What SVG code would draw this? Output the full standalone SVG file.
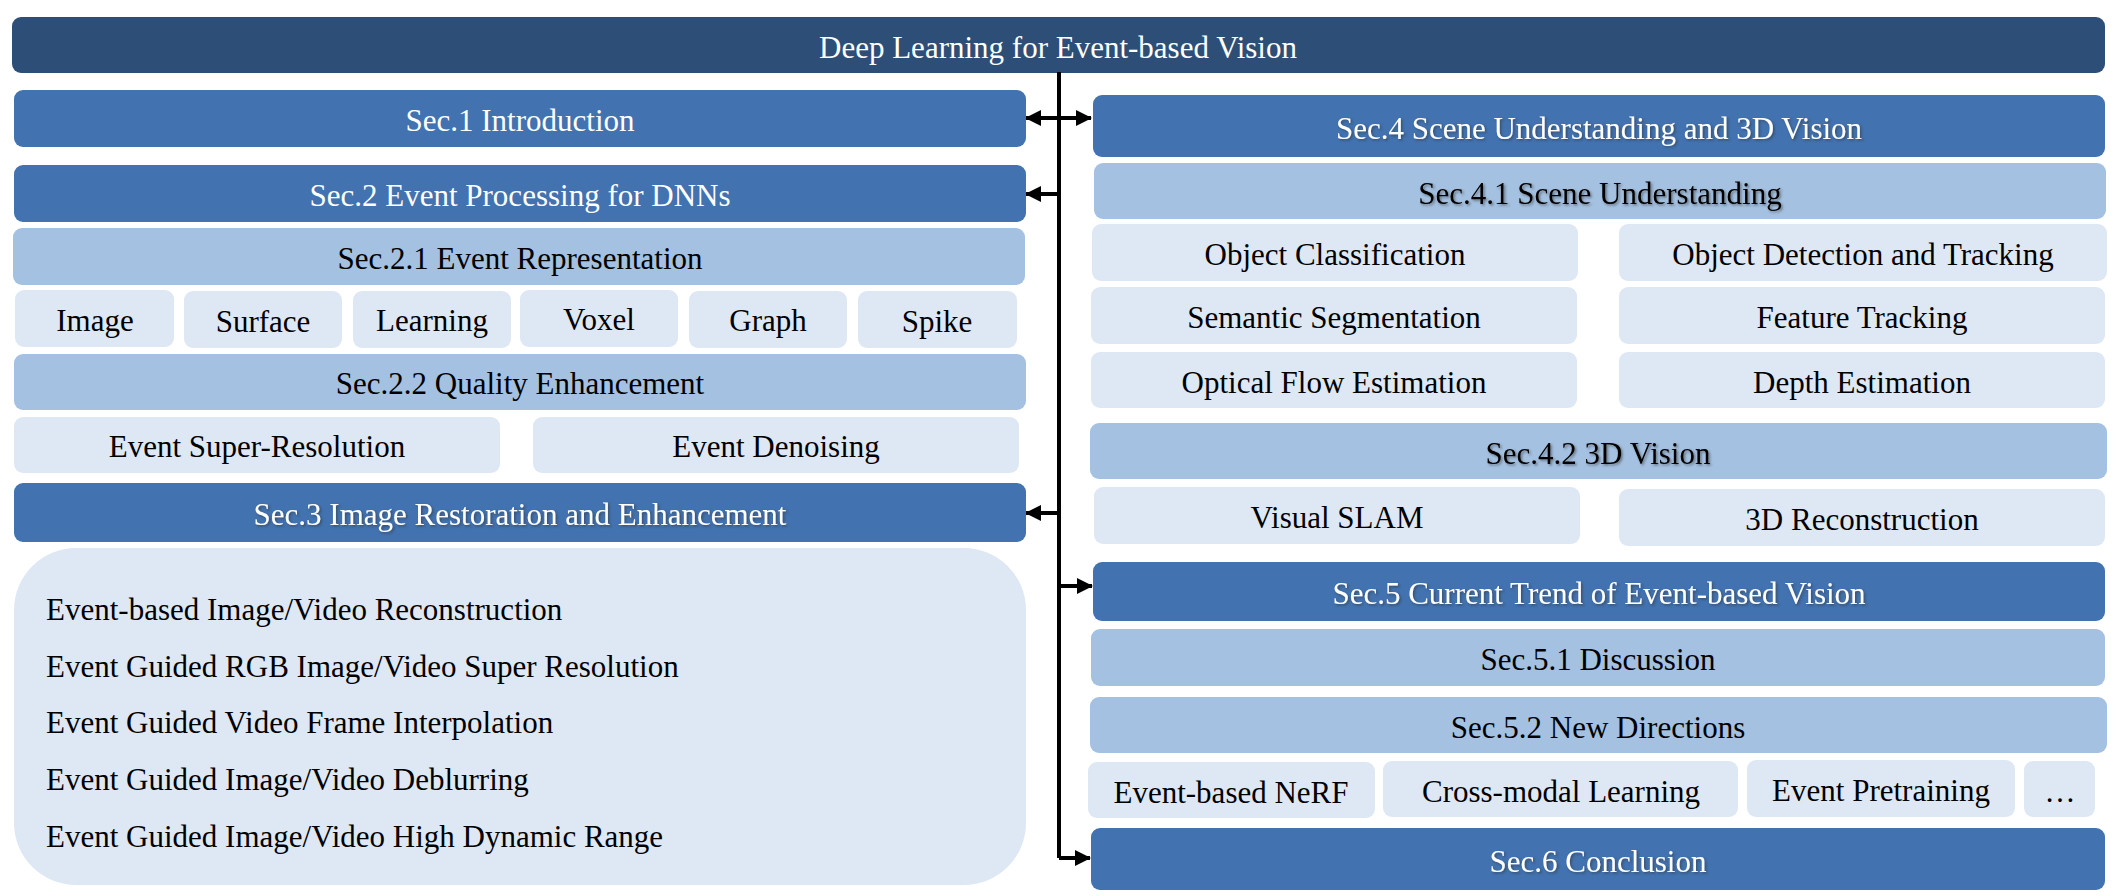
<svg xmlns="http://www.w3.org/2000/svg" width="2126" height="896" viewBox="0 0 2126 896">
<style>
text{font-family:"Liberation Serif","Times New Roman",serif;font-size:31px;text-anchor:middle}
.top{fill:#2D4F77}
.sec{fill:#4272AF}
.sub{fill:#A4C1E1}
.item{fill:#DEE8F4}
.w{fill:#FFFFFF}
.k{fill:#000000}
.sh{filter:url(#shadow)}
.conn{stroke:#000;stroke-width:4;fill:none}
</style>
<defs>
<filter id="shadow" x="-5%" y="-30%" width="110%" height="160%">
<feDropShadow dx="1.5" dy="1.5" stdDeviation="1" flood-color="#333" flood-opacity="0.55"/>
</filter>
<marker id="ah" markerUnits="userSpaceOnUse" markerWidth="16" markerHeight="16" refX="15" refY="8" orient="auto-start-reverse">
<path d="M0,0 L16,8 L0,16 Z" fill="#000"/>
</marker>
</defs>
<rect width="2126" height="896" fill="#FFFFFF"/>

<g id="title"><rect class="top" x="12" y="17" width="2093" height="56" rx="9"/><text class="w" x="1058" y="58">Deep Learning for Event-based Vision</text></g>

<g id="connectors">
<path class="conn" d="M1059,72 V858"/>
<path class="conn" d="M1026,118 H1091" marker-start="url(#ah)" marker-end="url(#ah)"/>
<path class="conn" d="M1059,194 H1026" marker-end="url(#ah)"/>
<path class="conn" d="M1059,513 H1026" marker-end="url(#ah)"/>
<path class="conn" d="M1059,586 H1092" marker-end="url(#ah)"/>
<path class="conn" d="M1059,858 H1090" marker-end="url(#ah)"/>
</g>

<g id="sec1"><rect class="sec" x="14" y="90" width="1012" height="57" rx="9"/><text class="w" x="520" y="131">Sec.1 Introduction</text></g>
<g id="sec2"><rect class="sec" x="14" y="165" width="1012" height="57" rx="9"/><text class="w" x="520" y="206">Sec.2 Event Processing for DNNs</text></g>
<g id="sec21"><rect class="sub" x="13" y="228" width="1012" height="57" rx="9"/><text class="k" x="520" y="269">Sec.2.1 Event Representation</text></g>
<g id="image"><rect class="item" x="15" y="290" width="159" height="57" rx="9"/><text class="k" x="95" y="331">Image</text></g>
<g id="surface"><rect class="item" x="184" y="291" width="158" height="57" rx="9"/><text class="k" x="263" y="332">Surface</text></g>
<g id="learning"><rect class="item" x="353" y="291" width="158" height="57" rx="9"/><text class="k" x="432" y="331">Learning</text></g>
<g id="voxel"><rect class="item" x="520" y="290" width="158" height="57" rx="9"/><text class="k" x="599" y="330">Voxel</text></g>
<g id="graph"><rect class="item" x="689" y="291" width="158" height="57" rx="9"/><text class="k" x="768" y="331">Graph</text></g>
<g id="spike"><rect class="item" x="858" y="291" width="159" height="57" rx="9"/><text class="k" x="937" y="332">Spike</text></g>
<g id="sec22"><rect class="sub" x="14" y="354" width="1012" height="56" rx="9"/><text class="k" x="520" y="394">Sec.2.2 Quality Enhancement</text></g>
<g id="esr"><rect class="item" x="14" y="417" width="486" height="56" rx="9"/><text class="k" x="257" y="457">Event Super-Resolution</text></g>
<g id="edn"><rect class="item" x="533" y="417" width="486" height="56" rx="9"/><text class="k" x="776" y="457">Event Denoising</text></g>
<g id="sec3"><rect class="sec" x="14" y="483" width="1012" height="59" rx="9"/><text class="w sh" x="520" y="525">Sec.3 Image Restoration and Enhancement</text></g>
<g id="sec3list"><rect class="item" x="14" y="548" width="1012" height="337" rx="62"/>
<text class="k" x="46" y="620" style="text-anchor:start">Event-based Image/Video Reconstruction</text>
<text class="k" x="46" y="677" style="text-anchor:start">Event Guided RGB Image/Video Super Resolution</text>
<text class="k" x="46" y="733" style="text-anchor:start">Event Guided Video Frame Interpolation</text>
<text class="k" x="46" y="790" style="text-anchor:start">Event Guided Image/Video Deblurring</text>
<text class="k" x="46" y="847" style="text-anchor:start">Event Guided Image/Video High Dynamic Range</text>
</g>

<g id="sec4"><rect class="sec" x="1093" y="95" width="1012" height="62" rx="9"/><text class="w sh" x="1599" y="139">Sec.4 Scene Understanding and 3D Vision</text></g>
<g id="sec41"><rect class="sub" x="1094" y="163" width="1012" height="56" rx="9"/><text class="k sh" x="1600" y="204">Sec.4.1 Scene Understanding</text></g>
<g id="objcls"><rect class="item" x="1092" y="224" width="486" height="57" rx="9"/><text class="k" x="1335" y="265">Object Classification</text></g>
<g id="objdet"><rect class="item" x="1619" y="224" width="488" height="57" rx="9"/><text class="k" x="1863" y="265">Object Detection and Tracking</text></g>
<g id="semseg"><rect class="item" x="1091" y="287" width="486" height="57" rx="9"/><text class="k" x="1334" y="328">Semantic Segmentation</text></g>
<g id="feat"><rect class="item" x="1619" y="287" width="486" height="57" rx="9"/><text class="k" x="1862" y="328">Feature Tracking</text></g>
<g id="flow"><rect class="item" x="1091" y="352" width="486" height="56" rx="9"/><text class="k" x="1334" y="393">Optical Flow Estimation</text></g>
<g id="depth"><rect class="item" x="1619" y="352" width="486" height="56" rx="9"/><text class="k" x="1862" y="393">Depth Estimation</text></g>
<g id="sec42"><rect class="sub" x="1090" y="423" width="1017" height="56" rx="9"/><text class="k sh" x="1598" y="464">Sec.4.2 3D Vision</text></g>
<g id="slam"><rect class="item" x="1094" y="487" width="486" height="57" rx="9"/><text class="k" x="1337" y="528">Visual SLAM</text></g>
<g id="recon"><rect class="item" x="1619" y="489" width="486" height="57" rx="9"/><text class="k" x="1862" y="530">3D Reconstruction</text></g>
<g id="sec5"><rect class="sec" x="1093" y="562" width="1012" height="59" rx="9"/><text class="w sh" x="1599" y="604">Sec.5 Current Trend of Event-based Vision</text></g>
<g id="sec51"><rect class="sub" x="1091" y="629" width="1014" height="57" rx="9"/><text class="k" x="1598" y="670">Sec.5.1 Discussion</text></g>
<g id="sec52"><rect class="sub" x="1090" y="697" width="1017" height="56" rx="9"/><text class="k" x="1598" y="738">Sec.5.2 New Directions</text></g>
<g id="nerf"><rect class="item" x="1088" y="762" width="287" height="56" rx="9"/><text class="k" x="1231" y="803">Event-based NeRF</text></g>
<g id="cross"><rect class="item" x="1383" y="761" width="355" height="56" rx="9"/><text class="k" x="1561" y="802">Cross-modal Learning</text></g>
<g id="pretrain"><rect class="item" x="1747" y="760" width="268" height="57" rx="9"/><text class="k" x="1881" y="801">Event Pretraining</text></g>
<g id="more"><rect class="item" x="2024" y="761" width="71" height="56" rx="9"/><text class="k" x="2060" y="802">…</text></g>
<g id="sec6"><rect class="sec" x="1091" y="828" width="1014" height="62" rx="9"/><text class="w sh" x="1598" y="872">Sec.6 Conclusion</text></g>
</svg>
